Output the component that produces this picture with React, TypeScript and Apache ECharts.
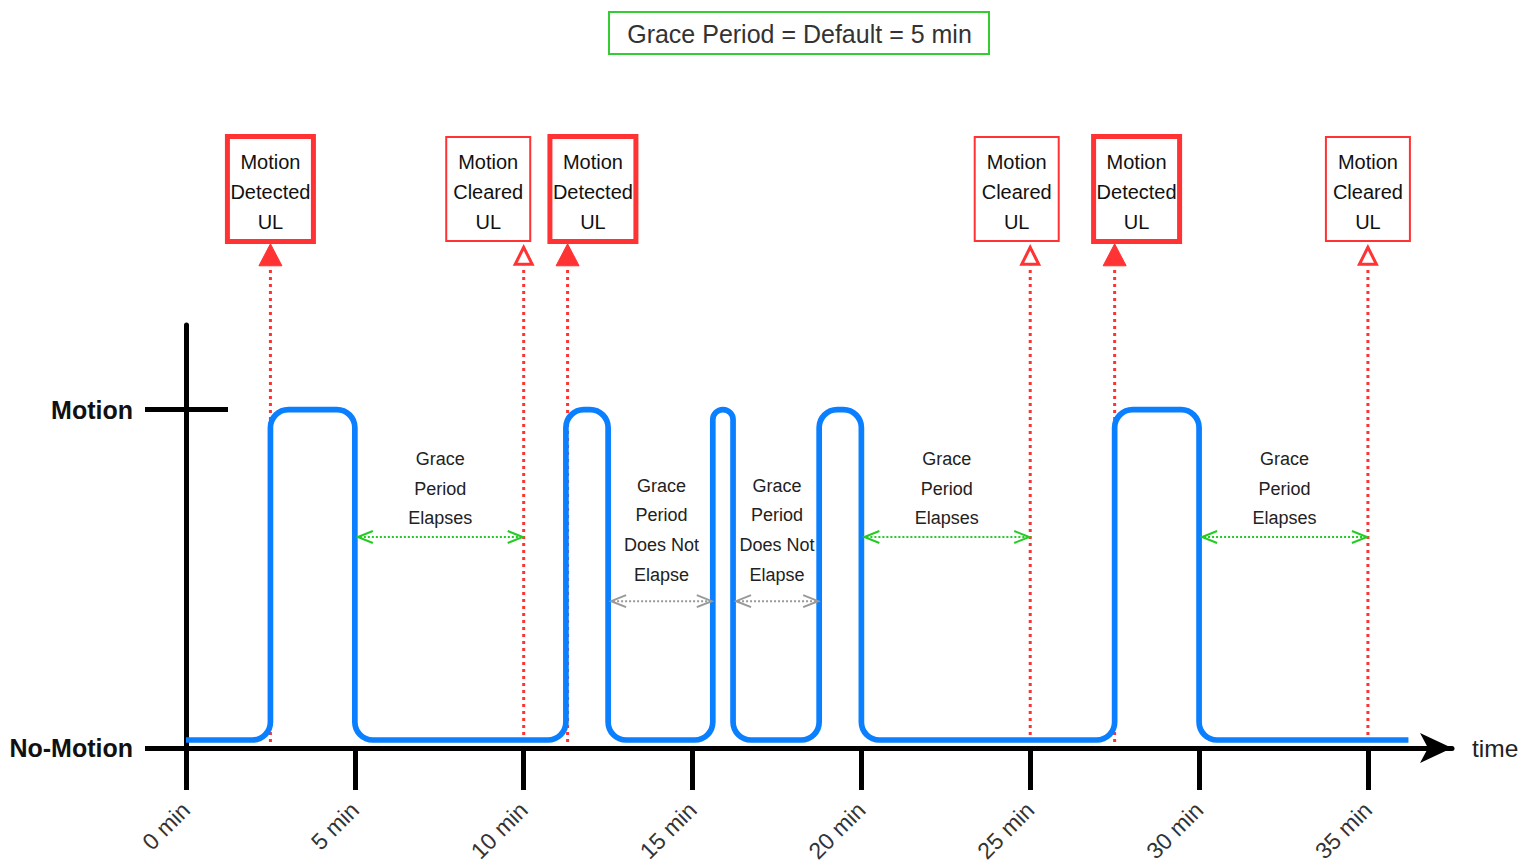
import React, { useEffect, useRef } from 'react';
import * as echarts from 'echarts';

// ---------- data ----------
const titleText = 'Grace Period = Default = 5 min';
const axisName = 'time';

const tickMinutes = [0, 5, 10, 15, 20, 25, 30, 35];
const levelValues = [0, 1];
const levelLabels = ['No-Motion', 'Motion'];

const signalTimes = [0, 2.5, 2.5, 5.0, 5.0, 11.25, 11.25, 12.5, 12.5, 15.6, 15.6, 16.2, 16.2, 18.75, 18.75, 20.0, 20.0, 27.5, 27.5, 30.0, 30.0, 36.2];
const signalLevels = [0, 0, 1, 1, 0, 0, 1, 1, 0, 0, 1, 1, 0, 0, 1, 1, 0, 0, 1, 1, 0, 0];

const eventTimes = [2.5, 10.0, 11.3, 25.0, 27.5, 35.0];
const eventKinds = ['detected', 'cleared', 'detected', 'cleared', 'detected', 'cleared'];

const boxCenters = [2.5, 8.95, 12.05, 24.6, 28.15, 35.0];
const boxKinds = ['detected', 'cleared', 'detected', 'cleared', 'detected', 'cleared'];
const boxTexts = [
  'Motion\nDetected\nUL',
  'Motion\nCleared\nUL',
  'Motion\nDetected\nUL',
  'Motion\nCleared\nUL',
  'Motion\nDetected\nUL',
  'Motion\nCleared\nUL',
];

const spanStarts = [5.0, 12.5, 16.2, 20.0, 30.0];
const spanEnds = [10.0, 15.6, 18.75, 25.0, 35.0];
const spanKinds = ['elapses', 'notElapse', 'notElapse', 'elapses', 'elapses'];
const spanTexts = [
  'Grace\nPeriod\nElapses',
  'Grace\nPeriod\nDoes Not\nElapse',
  'Grace\nPeriod\nDoes Not\nElapse',
  'Grace\nPeriod\nElapses',
  'Grace\nPeriod\nElapses',
];

// ---------- style ----------
const FONT = '"Liberation Sans", Arial, Helvetica, sans-serif';
const BLUE = '#0a7fff';
const RED = '#ff3333';
const GREEN = '#22cc22';
const GRAY = '#999999';
const X_MAX = 37.49;
const Y_MAX = 1.25;
const LOW_LIFT = 8;
const CORNER = 18;
const ARROW_TIP_LEVEL = 1.49;
const BOX_LEVEL = 1.652;
const GREEN_LEVEL = 0.6235;
const GRAY_LEVEL = 0.434;

function roundedPath(pts: number[][]): string {
  let d = `M${pts[0][0]},${pts[0][1]}`;
  const k = 0.5523;
  for (let i = 1; i < pts.length - 1; i++) {
    const [px, py] = pts[i - 1];
    const [cx, cy] = pts[i];
    const [nx, ny] = pts[i + 1];
    const l1 = Math.hypot(cx - px, cy - py);
    const l2 = Math.hypot(nx - cx, ny - cy);
    if (l1 < 0.01 || l2 < 0.01) continue;
    const r = Math.min(CORNER, l1 / 2, l2 / 2);
    const u1 = [(cx - px) / l1, (cy - py) / l1];
    const u2 = [(nx - cx) / l2, (ny - cy) / l2];
    const a = [cx - u1[0] * r, cy - u1[1] * r];
    const b = [cx + u2[0] * r, cy + u2[1] * r];
    d += ` L${a[0]},${a[1]} C${a[0] + u1[0] * r * k},${a[1] + u1[1] * r * k} ${b[0] - u2[0] * r * k},${b[1] - u2[1] * r * k} ${b[0]},${b[1]}`;
  }
  const last = pts[pts.length - 1];
  d += ` L${last[0]},${last[1]}`;
  return d;
}

export default function App() {
  const ref = useRef<HTMLDivElement>(null);

  useEffect(() => {
    if (!ref.current) return;
    const chart = echarts.init(ref.current, undefined, { renderer: 'svg' });

    const option: any = {
      animation: false,
      backgroundColor: '#ffffff',
      grid: { left: 186, right: 81, top: 325, bottom: 117, containLabel: false, outerBoundsMode: 'none' },
      graphic: [
        {
          type: 'rect',
          shape: { x: 609, y: 12, width: 380, height: 42 },
          style: { fill: '#ffffff', stroke: '#33cc33', lineWidth: 2 },
        },
        {
          type: 'text',
          x: 799.5,
          y: 34,
          style: {
            text: titleText,
            align: 'center',
            verticalAlign: 'middle',
            fontSize: 25,
            fontFamily: FONT,
            fill: '#333333',
          },
        },
      ],
      xAxis: {
        type: 'value',
        min: 0,
        max: X_MAX,
        name: axisName,
        nameLocation: 'end',
        nameGap: 20,
        nameTextStyle: { fontSize: 24.5, color: '#222222', fontFamily: FONT },
        axisLine: {
          show: true,
          onZero: false,
          symbol: ['none', 'arrow'],
          symbolSize: [22.5, 32],
          lineStyle: { color: '#000000', width: 5 },
        },
        axisTick: { show: true, customValues: tickMinutes, length: 42, lineStyle: { color: '#000000', width: 5 } },
        axisLabel: {
          customValues: tickMinutes,
          formatter: (v: number) => `${v} min`,
          rotate: 45,
          margin: 58,
          fontSize: 23,
          color: '#333333',
          fontFamily: FONT,
        },
        splitLine: { show: false },
      },
      yAxis: [
        {
          type: 'value',
          min: 0,
          max: Y_MAX,
          position: 'left',
          axisLine: { show: true, onZero: false, lineStyle: { color: '#000000', width: 5 } },
          axisTick: { show: true, customValues: levelValues, length: 41, lineStyle: { color: '#000000', width: 5 } },
          axisLabel: {
            customValues: levelValues,
            formatter: (v: number) => levelLabels[levelValues.indexOf(v)] ?? '',
            margin: 53,
            fontSize: 25,
            fontWeight: 'bold',
            color: '#111111',
            fontFamily: FONT,
          },
          splitLine: { show: false },
        },
        {
          type: 'value',
          min: 0,
          max: Y_MAX,
          position: 'left',
          axisLine: { show: false },
          axisTick: { show: true, inside: true, customValues: levelValues, length: 42, lineStyle: { color: '#000000', width: 5 } },
          axisLabel: { show: false },
          splitLine: { show: false },
        },
      ],
      series: [
        {
          type: 'custom',
          name: 'events',
          clip: false,
          silent: true,
          z: 2,
          data: eventTimes.map((t, i) => [t, 0, i]),
          renderItem: (params: any, api: any) => {
            const i = params.dataIndex;
            const t = api.value(0);
            const [x, yLow] = api.coord([t, 0]);
            const yTip = api.coord([t, ARROW_TIP_LEVEL])[1];
            const filled = eventKinds[i] === 'detected';
            const tri = filled
              ? [[x, yTip], [x - 11.5, yTip + 22], [x + 11.5, yTip + 22]]
              : [[x, yTip + 3.5], [x - 8.5, yTip + 20.5], [x + 8.5, yTip + 20.5]];
            return {
              type: 'group',
              children: [
                {
                  type: 'line',
                  shape: { x1: x, y1: yLow - LOW_LIFT + 2, x2: x, y2: yTip + 22 },
                  style: { stroke: RED, lineWidth: 3, lineDash: [3, 4] },
                },
                {
                  type: 'polygon',
                  shape: { points: tri },
                  style: filled
                    ? { fill: RED, stroke: RED, lineWidth: 1 }
                    : { fill: '#ffffff', stroke: RED, lineWidth: 3 },
                },
              ],
            };
          },
        },
        {
          type: 'custom',
          name: 'signal',
          clip: false,
          silent: true,
          z: 3,
          data: signalTimes.map((t, i) => [t, signalLevels[i]]),
          renderItem: (params: any, api: any) => {
            if (params.dataIndex !== 0) return null;
            const pts = signalTimes.map((t, i) => {
              const p = api.coord([t, signalLevels[i]]);
              return [p[0], p[1] - (signalLevels[i] === 0 ? LOW_LIFT : 0)];
            });
            return {
              type: 'path',
              shape: { pathData: roundedPath(pts) },
              style: { fill: 'none', stroke: BLUE, lineWidth: 5.7, lineJoin: 'round', lineCap: 'butt' },
            };
          },
        },
        {
          type: 'custom',
          name: 'boxes',
          clip: false,
          silent: true,
          z: 4,
          data: boxCenters.map((t, i) => [t, BOX_LEVEL, i]),
          renderItem: (params: any, api: any) => {
            const i = params.dataIndex;
            const [cx, cy] = api.coord([api.value(0), api.value(1)]);
            const thick = boxKinds[i] === 'detected';
            const w = thick ? 86 : 84;
            const h = thick ? 105 : 104;
            return {
              type: 'group',
              children: [
                {
                  type: 'rect',
                  shape: { x: cx - w / 2, y: cy - h / 2, width: w, height: h },
                  style: { fill: '#ffffff', stroke: RED, lineWidth: thick ? 5 : 2 },
                },
                {
                  type: 'text',
                  style: {
                    text: boxTexts[i],
                    x: cx,
                    y: cy + 3,
                    align: 'center',
                    verticalAlign: 'middle',
                    fontSize: 20,
                    lineHeight: 30,
                    fontFamily: FONT,
                    fill: '#111111',
                  },
                },
              ],
            };
          },
        },
        {
          type: 'custom',
          name: 'spans',
          clip: false,
          silent: true,
          z: 4,
          encode: { x: [0, 1], y: 2 },
          data: spanStarts.map((s, i) => [s, spanEnds[i], spanKinds[i] === 'elapses' ? GREEN_LEVEL : GRAY_LEVEL]),
          renderItem: (params: any, api: any) => {
            const i = params.dataIndex;
            const elapses = spanKinds[i] === 'elapses';
            const x1 = api.coord([api.value(0), 0])[0] + 3;
            const x2 = api.coord([api.value(1), 0])[0] - 1;
            const y = api.coord([0, api.value(2)])[1];
            const color = elapses ? GREEN : GRAY;
            const cl = 15;
            const ch = 6;
            return {
              type: 'group',
              children: [
                {
                  type: 'line',
                  shape: { x1: x1 + 2, y1: y, x2: x2 - 2, y2: y },
                  style: { stroke: color, lineWidth: 2, lineDash: [2, 2] },
                },
                {
                  type: 'polyline',
                  shape: { points: [[x1 + cl, y - ch], [x1, y], [x1 + cl, y + ch]] },
                  style: { fill: 'none', stroke: color, lineWidth: 2 },
                },
                {
                  type: 'polyline',
                  shape: { points: [[x2 - cl, y - ch], [x2, y], [x2 - cl, y + ch]] },
                  style: { fill: 'none', stroke: color, lineWidth: 2 },
                },
                {
                  type: 'text',
                  style: {
                    text: spanTexts[i],
                    x: (x1 + x2) / 2,
                    y: y - (elapses ? 48.5 : 71),
                    align: 'center',
                    verticalAlign: 'middle',
                    fontSize: 18,
                    lineHeight: 29.6,
                    fontFamily: FONT,
                    fill: '#222222',
                  },
                },
              ],
            };
          },
        },
      ],
    };

    chart.setOption(option);
    return () => {
      chart.dispose();
    };
  }, []);

  return (
    <div
      ref={ref}
      style={{ position: 'fixed', left: 0, top: 0, width: 1533, height: 865, background: '#ffffff' }}
    />
  );
}
